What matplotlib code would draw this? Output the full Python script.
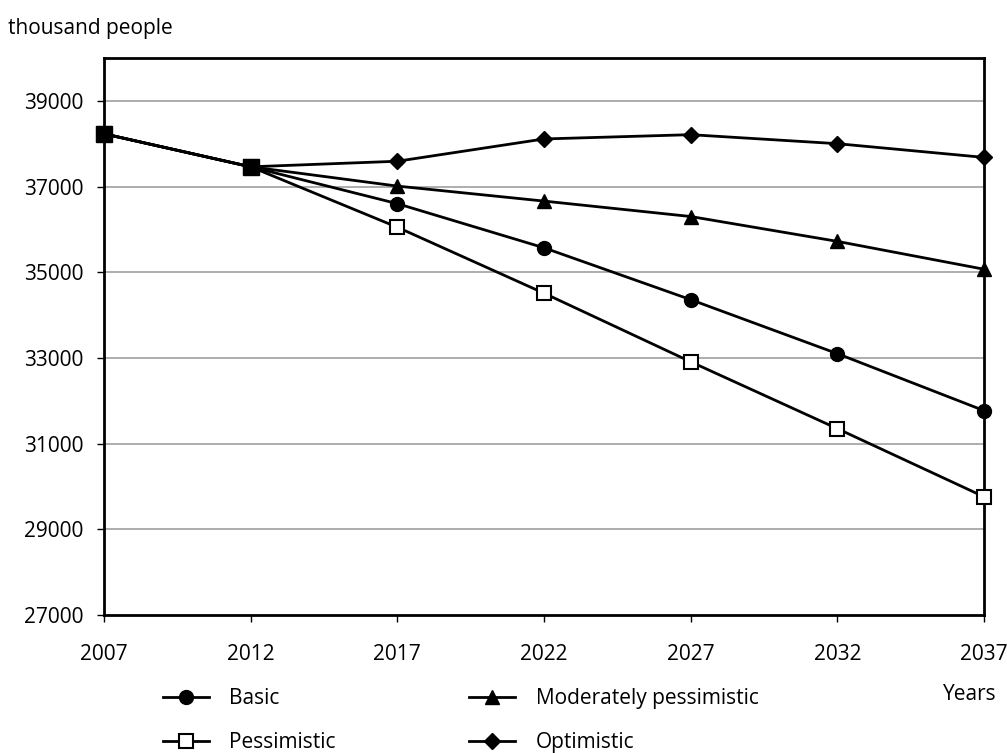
import matplotlib.pyplot as plt

years = [2007, 2012, 2017, 2022, 2027, 2032, 2037]
basic = [38230, 37460, 36600, 35570, 34360, 33100, 31770]
pessimistic = [38230, 37460, 36050, 34510, 32910, 31350, 29760]
moderate = [38230, 37460, 37010, 36660, 36300, 35720, 35070]
optimistic = [38230, 37460, 37590, 38110, 38210, 38000, 37680]

y_ticks = [27000, 29000, 31000, 33000, 35000, 37000, 39000]

plt.rcParams["font.family"] = ["Open Sans", "DejaVu Sans"]

fig = plt.figure(figsize=(10.07, 7.53), dpi=100)
ax = fig.add_axes([0.1033, 0.1833, 0.8738, 0.7397])

style = dict(color="black", lw=2, ms=10, clip_on=False, zorder=3)
ax.plot(years, basic, marker="o", label="Basic", **style)
ax.plot(years, pessimistic, marker="s", mfc="white", mew=1.5, label="Pessimistic", **style)
ax.plot(years, moderate, marker="^", label="Moderately pessimistic", **style)
ax.plot(years, optimistic, marker="D", label="Optimistic", **{**style, "ms": 8})
# first two points are shared, drawn as filled squares
ax.plot(years[:2], basic[:2], ls="none", color="black", marker="s", ms=11, zorder=4, clip_on=False)

ax.set_xlim(2007, 2037)
ax.set_ylim(27000, 40000)
ax.set_xticks(years)
ax.set_yticks(y_ticks)
for y in y_ticks[1:]:
    ax.axhline(y, color="#a0a0a0", lw=1.2, zorder=1)

for s in ax.spines.values():
    s.set_linewidth(2)
ax.tick_params(axis="both", labelsize=15, length=5, width=1, direction="out")
ax.tick_params(axis="x", pad=16)
ax.tick_params(axis="y", pad=10)

fig.text(0.008, 0.962, "thousand people", fontsize=15, va="center")
fig.text(0.963, 0.078, "Years", fontsize=15, va="center", ha="center")

handles, labels = ax.get_legend_handles_labels()
fig.legend(handles, labels, ncol=2, loc="upper left", bbox_to_anchor=(0.143, 0.111),
           frameon=False, fontsize=15, columnspacing=6.4, handlelength=2.2,
           labelspacing=1.1, handletextpad=1.0)

fig.savefig("out.png", dpi=100)
